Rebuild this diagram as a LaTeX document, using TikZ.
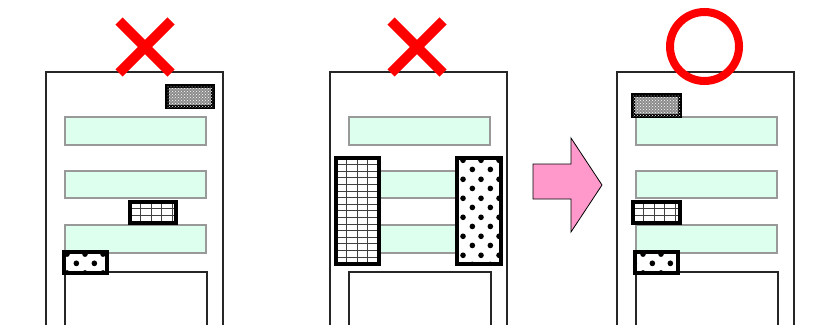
\documentclass[tikz,border=0pt]{standalone}
\usepackage{tikz}
\usetikzlibrary{patterns}
\definecolor{bar-fill}{HTML}{DDFFEE}
\definecolor{bar-line}{HTML}{999999}
\definecolor{arrow-fill}{HTML}{FF99CC}
\definecolor{mark-red}{HTML}{FF0000}

% coarse dots for the badges
\pgfdeclarepatternformonly{big dots}{\pgfpointorigin}{\pgfpoint{18pt}{18.6pt}}{\pgfpoint{18pt}{18.6pt}}{
  \pgfpathcircle{\pgfpoint{4.5pt}{4.65pt}}{2.9pt}
  \pgfpathcircle{\pgfpoint{13.5pt}{13.95pt}}{2.9pt}
  \pgfusepath{fill}}

\begin{document}
\begin{tikzpicture}[
  x=1pt, y=-1pt,
  frame/.style={draw=black!85, line width=1.5pt},
  bar/.style={draw=bar-line, fill=bar-fill, line width=1.6pt},
  badge/.style={draw=black, line width=4pt},
  noisebadge/.style={badge, fill=black!45, postaction={pattern=crosshatch dots, pattern color=white}},
  gridbadge/.style={badge, fill=white, path picture={
    \foreach \k in {1,...,16} {
      \draw[black!75, line width=0.7pt]
        ([xshift=\k*10.5pt]path picture bounding box.north west) -- ([xshift=\k*10.5pt]path picture bounding box.south west)
        ([yshift=-\k*6.6pt]path picture bounding box.north west) -- ([yshift=-\k*6.6pt]path picture bounding box.north east);
    }}},
  dotbadge/.style={badge, fill=white, postaction={pattern=big dots}},
  cross/.style={draw=mark-red, line width=10pt},
  okmark/.style={draw=mark-red, line width=8pt}
]
  \useasboundingbox (0,0) rectangle (827,324);
  \clip (0,0) rectangle (827,324);

  % the three sheets
  \foreach \px in {46,330,617} {
    \draw[frame] (\px,72) rectangle ++(177,260);
    \draw[bar] (\px+19,117) rectangle ++(141,28);
    \draw[bar] (\px+19,171) rectangle ++(141,27);
    \draw[bar] (\px+19,225) rectangle ++(141,28);
    \draw[frame] (\px+19,272) rectangle ++(142,60);
  }

  % sheet 1: badges scattered
  \draw[noisebadge] (167,86) rectangle (213,107);
  \draw[gridbadge] (130,202) rectangle (176,223);
  \draw[dotbadge] (64,252) rectangle (107,273);

  % sheet 2: tall blocks over the bars
  \draw[gridbadge] (336,158) rectangle (379,264);
  \draw[dotbadge] (457,158) rectangle (501,264);

  % sheet 3: badges aligned left
  \draw[noisebadge] (633,95) rectangle (680,116);
  \draw[gridbadge] (633,202) rectangle (680,223);
  \draw[dotbadge] (635,252) rectangle (678,273);

  % arrow
  \coordinate (tip) at (602,185);
  \draw[fill=arrow-fill, line width=0.8pt, line join=miter]
    (533,164) -- (571,164) -- (571,138) -- (tip) -- (571,232) -- (571,199) -- (533,199) -- cycle;

  % marks
  \coordinate (x1) at (145,47);
  \coordinate (x2) at (417,47);
  \foreach \c in {x1,x2} {
    \draw[cross] ([shift={(-26,-26)}]\c) -- ([shift={(26,26)}]\c);
    \draw[cross] ([shift={(-26,26)}]\c) -- ([shift={(26,-26)}]\c);
  }
  \coordinate (ok) at (704.5,46.5);
  \draw[okmark] (ok) circle[radius=34.5];
\end{tikzpicture}
\end{document}
